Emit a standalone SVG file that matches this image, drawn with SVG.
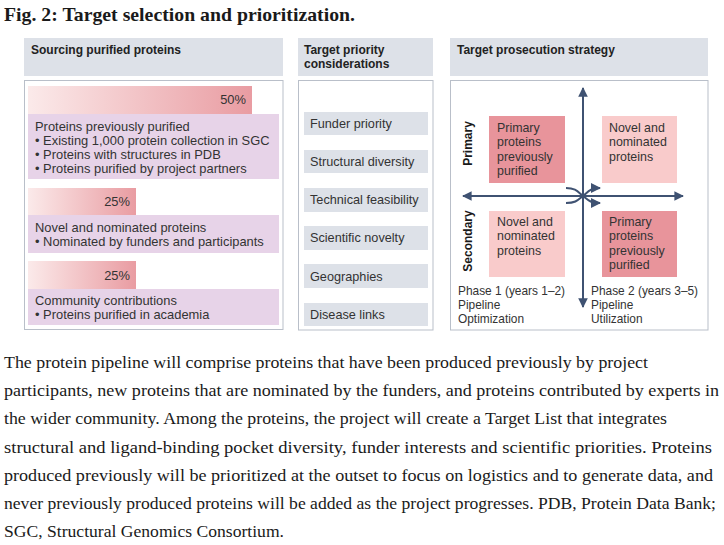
<svg xmlns="http://www.w3.org/2000/svg" width="724" height="545" viewBox="0 0 724 545">
<style>
.title{font-family:"Liberation Serif",serif;font-weight:bold;font-size:19.5px;fill:#1a1a1a}
.cap{font-family:"Liberation Serif",serif;font-size:17.5px;fill:#1a1a1a}
.hdr{fill:#dde1e8}
.hdrt{font-family:"Liberation Sans",Arial,sans-serif;font-weight:bold;font-size:12px;fill:#222}
.body{fill:#fff;stroke:#b9bfc9;stroke-width:1}
.t{font-family:"Liberation Sans",Arial,sans-serif;font-size:12.9px;fill:#333}
.tm{font-family:"Liberation Sans",Arial,sans-serif;font-size:12.7px;fill:#333}
.tq{font-family:"Liberation Sans",Arial,sans-serif;font-size:12.4px;fill:#333}
.tp{font-family:"Liberation Sans",Arial,sans-serif;font-size:11.9px;fill:#333}
.rot{font-family:"Liberation Sans",Arial,sans-serif;font-weight:bold;font-size:12px;fill:#1a1a1a}
.pur{fill:#e7d3e8}
.item{fill:#dde1e8}
.dark{fill:#e8949b}
.light{fill:#f9cbcb}
.ax{stroke:#3f5272;stroke-width:2;fill:none}
</style>
<defs>
<linearGradient id="bar" x1="0" y1="0" x2="1" y2="0">
<stop offset="0" stop-color="#fbeaea"/>
<stop offset="1" stop-color="#e99ca2"/>
</linearGradient>
<marker id="ah" viewBox="0 0 10 10" refX="9" refY="5" markerWidth="4.8" markerHeight="4.8" orient="auto-start-reverse" markerUnits="strokeWidth">
<path d="M0,0 L10,5 L0,10 z" fill="#3f5272"/>
</marker>
<marker id="ah2" viewBox="0 0 10 10" refX="9" refY="5" markerWidth="5" markerHeight="5" orient="auto" markerUnits="strokeWidth">
<path d="M0,0 L10,5 L0,10 z" fill="#3f5272"/>
</marker>
</defs>
<rect width="724" height="545" fill="#fff"/>

<text class="title" x="4" y="21" textLength="351" lengthAdjust="spacingAndGlyphs">Fig. 2: Target selection and prioritization.</text>

<!-- Left panel -->
<g id="panel-sourcing">
<rect class="hdr" x="24" y="38" width="259" height="38"/>
<text class="hdrt" x="31" y="54">Sourcing purified proteins</text>
<rect class="body" x="24.5" y="80.5" width="258.5" height="249"/>
</g>
<g id="src-previous">
<rect x="28" y="86" width="224" height="28" fill="url(#bar)"/>
<text class="t" x="246" y="104" text-anchor="end">50%</text>
<rect class="pur" x="28" y="114" width="251" height="65"/>
<text class="t" x="35" y="131">Proteins previously purified</text>
<text class="t" x="35" y="145">• Existing 1,000 protein collection in SGC</text>
<text class="t" x="35" y="159">• Proteins with structures in PDB</text>
<text class="t" x="35" y="173">• Proteins purified by project partners</text>
</g>
<g id="src-novel">
<rect x="28" y="188" width="108" height="27" fill="url(#bar)"/>
<text class="t" x="130" y="206" text-anchor="end">25%</text>
<rect class="pur" x="28" y="215" width="251" height="38"/>
<text class="t" x="35" y="232">Novel and nominated proteins</text>
<text class="t" x="35" y="246">• Nominated by funders and participants</text>
</g>
<g id="src-community">
<rect x="28" y="261" width="108" height="28" fill="url(#bar)"/>
<text class="t" x="130" y="280" text-anchor="end">25%</text>
<rect class="pur" x="28" y="289" width="251" height="36"/>
<text class="t" x="35" y="305">Community contributions</text>
<text class="t" x="35" y="319">• Proteins purified in academia</text>
</g>

<!-- Middle panel -->
<g id="panel-priority">
<rect class="hdr" x="298" y="38" width="135" height="38"/>
<text class="hdrt" x="304" y="54">Target priority</text>
<text class="hdrt" x="304" y="68">considerations</text>
<rect class="body" x="298.5" y="80.5" width="134.5" height="249.5"/>
</g>
<g id="pri-funder"><rect class="item" x="304" y="112" width="124" height="23"/><text class="tm" x="310" y="128">Funder priority</text></g>
<g id="pri-structural"><rect class="item" x="304" y="150" width="124" height="23"/><text class="tm" x="310" y="166">Structural diversity</text></g>
<g id="pri-technical"><rect class="item" x="304" y="188" width="124" height="24"/><text class="tm" x="310" y="204">Technical feasibility</text></g>
<g id="pri-scientific"><rect class="item" x="304" y="226" width="124" height="24"/><text class="tm" x="310" y="242">Scientific novelty</text></g>
<g id="pri-geographies"><rect class="item" x="304" y="264" width="124" height="24"/><text class="tm" x="310" y="281">Geographies</text></g>
<g id="pri-disease"><rect class="item" x="304" y="303" width="124" height="23"/><text class="tm" x="310" y="319">Disease links</text></g>

<!-- Right panel -->
<g id="panel-strategy">
<rect class="hdr" x="450" y="38" width="258" height="38"/>
<text class="hdrt" x="457" y="54">Target prosecution strategy</text>
<rect class="body" x="450.5" y="80.5" width="257.5" height="249.5"/>
<text class="rot" transform="translate(472,143.5) rotate(-90)" text-anchor="middle">Primary</text>
<text class="rot" transform="translate(472,241) rotate(-90)" text-anchor="middle">Secondary</text>
</g>
<g id="q-tl">
<rect class="dark" x="489" y="116" width="76" height="67"/>
<text class="tq" x="497" y="132">Primary</text>
<text class="tq" x="497" y="146">proteins</text>
<text class="tq" x="497" y="160.5">previously</text>
<text class="tq" x="497" y="175">purified</text>
</g>
<g id="q-tr">
<rect class="light" x="602" y="116" width="75" height="67"/>
<text class="tq" x="609" y="132">Novel and</text>
<text class="tq" x="609" y="146">nominated</text>
<text class="tq" x="609" y="160.5">proteins</text>
</g>
<g id="q-bl">
<rect class="light" x="489" y="211" width="76" height="66"/>
<text class="tq" x="497" y="226">Novel and</text>
<text class="tq" x="497" y="240">nominated</text>
<text class="tq" x="497" y="254.5">proteins</text>
</g>
<g id="q-br">
<rect class="dark" x="602" y="211" width="75" height="66"/>
<text class="tq" x="609" y="226">Primary</text>
<text class="tq" x="609" y="240">proteins</text>
<text class="tq" x="609" y="254.5">previously</text>
<text class="tq" x="609" y="269">purified</text>
</g>
<g id="phase1">
<text class="tp" x="458" y="295">Phase 1 (years 1–2)</text>
<text class="tp" x="458" y="309">Pipeline</text>
<text class="tp" x="458" y="323">Optimization</text>
</g>
<g id="phase2">
<text class="tp" x="591" y="295">Phase 2 (years 3–5)</text>
<text class="tp" x="591" y="309">Pipeline</text>
<text class="tp" x="591" y="323">Utilization</text>
</g>

<g id="connectors">
<line class="ax" x1="583" y1="307" x2="583" y2="88" marker-end="url(#ah)" marker-start="url(#ah)"/>
<line class="ax" x1="463" y1="196" x2="683" y2="196" marker-end="url(#ah)" marker-start="url(#ah)"/>
<path class="ax" d="M566,188 C576,188 578,192 583,196 C588,200 590,203 600,203" marker-end="url(#ah2)"/>
<path class="ax" d="M566,203 C576,203 578,200 583,196 C588,192 590,188 600,188" marker-end="url(#ah2)"/>
</g>

<!-- Caption -->
<g id="caption">
<text class="cap" x="4" y="368.3" textLength="644" lengthAdjust="spacingAndGlyphs">The protein pipeline will comprise proteins that have been produced previously by project</text>
<text class="cap" x="4" y="396.4" textLength="715" lengthAdjust="spacingAndGlyphs">participants, new proteins that are nominated by the funders, and proteins contributed by experts in</text>
<text class="cap" x="4" y="424.4" textLength="663" lengthAdjust="spacingAndGlyphs">the wider community. Among the proteins, the project will create a Target List that integrates</text>
<text class="cap" x="4" y="452.5" textLength="708" lengthAdjust="spacingAndGlyphs">structural and ligand-binding pocket diversity, funder interests and scientific priorities. Proteins</text>
<text class="cap" x="4" y="480.6" textLength="709" lengthAdjust="spacingAndGlyphs">produced previously will be prioritized at the outset to focus on logistics and to generate data, and</text>
<text class="cap" x="4" y="508.6" textLength="712" lengthAdjust="spacingAndGlyphs">never previously produced proteins will be added as the project progresses. PDB, Protein Data Bank;</text>
<text class="cap" x="4" y="536.7" textLength="280" lengthAdjust="spacingAndGlyphs">SGC, Structural Genomics Consortium.</text>
</g>
</svg>
